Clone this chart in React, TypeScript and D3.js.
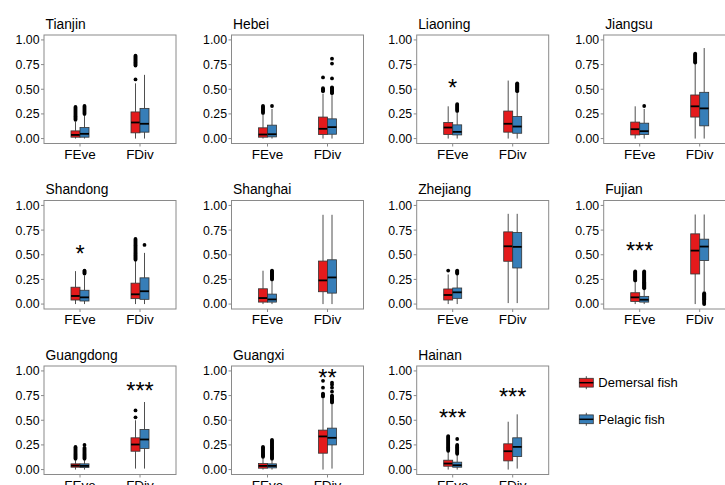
import React from "react";
import * as d3 from "d3";

const provinces = ["Tianjin", "Hebei", "Liaoning", "Jiangsu", "Shandong", "Shanghai", "Zhejiang", "Fujian", "Guangdong", "Guangxi", "Hainan"];
const metrics = ["FEve", "FDiv"];
const fishTypes = ["Demersal fish", "Pelagic fish"];
const fishColors = ["#E41A1C", "#377EB8"];
const yTicks = [0, 0.25, 0.5, 0.75, 1];

// per province: [FEve-Demersal, FEve-Pelagic, FDiv-Demersal, FDiv-Pelagic], each [low, q1, median, q3, high]
const boxStats: number[][][] = [
  [[0, .014, .037, .078, .17], [0, .014, .048, .112, .24], [0, .058, .163, .27, .56], [0, .065, .15, .306, .646]],
  [[0, .014, .041, .109, .25], [0, .017, .044, .136, .30], [0, .041, .099, .218, .456], [0, .044, .116, .2, .45]],
  [[0, .041, .112, .163, .327], [0, .037, .068, .139, .27], [0, .065, .15, .279, .588], [0, .054, .122, .224, .47]],
  [[0, .037, .095, .167, .327], [0, .041, .075, .156, .30], [0, .218, .327, .442, .76], [0, .129, .306, .469, .918]],
  [[0, .041, .082, .171, .334], [0, .031, .068, .14, .29], [0, .055, .099, .212, .44], [0, .048, .13, .266, .519]],
  [[0, .02, .061, .155, .338], [0, .02, .047, .101, .24], [0, .125, .24, .436, .905], [0, .111, .27, .449, .905]],
  [[0, .041, .092, .153, .30], [0, .058, .119, .163, .30], [.01, .434, .586, .732, .915], [.01, .366, .58, .725, .915]],
  [[0, .027, .068, .115, .23], [0, .02, .044, .078, .15], [0, .305, .542, .712, .908], [.13, .441, .583, .658, .908]],
  [[0, .024, .04, .058, .10], [0, .02, .037, .058, .10], [.01, .186, .254, .322, .50], [.01, .214, .305, .407, .685]],
  [[0, .014, .037, .061, .12], [0, .017, .037, .058, .10], [0, .166, .336, .40, .72], [.01, .25, .322, .42, .66]],
  [[0, .034, .061, .095, .18], [0, .024, .044, .075, .15], [0, .088, .186, .261, .485], [.01, .132, .23, .322, .56]],
];

const outliers: number[][][] = [
  [[.19, .2, .21, .22, .23, .24, .25, .26, .27, .28, .29, .3, .31, .32], [.25, .26, .27, .28, .29, .3, .31, .32, .33], [.6, .74, .75, .76, .77, .78, .79, .8, .81, .82, .83, .84], []],
  [[.26, .27, .28, .29, .3, .31, .32, .33], [.33], [.48, .49, .5, .51, .62], [.46, .47, .48, .49, .5, .51, .52, .61, .76, .81]],
  [[], [.28, .29, .3, .31, .32, .33, .34, .35], [], [.48, .49, .5, .51, .52, .53, .54, .55, .56]],
  [[], [.33], [.77, .78, .79, .8, .81, .82, .83, .84, .85, .86], []],
  [[], [.31, .32, .33, .34], [.45, .46, .47, .48, .49, .5, .51, .52, .53, .54, .55, .56, .57, .58, .59, .6, .61, .62, .63, .64, .65, .66], [.6]],
  [[], [.25, .26, .27, .28, .29, .3, .31, .32, .33, .34], [], []],
  [[.34], [.31, .32, .33, .34], [], []],
  [[.24, .25, .26, .27, .28, .29, .3, .31, .32, .33], [.16, .17, .18, .19, .2, .21, .22, .23, .24, .25, .26, .27, .28, .29, .3, .31, .32, .33], [], [0, .01, .02, .03, .04, .05, .06, .07, .08, .09, .1, .11]],
  [[.11, .12, .13, .14, .15, .16, .17, .18, .19, .2, .21, .22, .23], [.11, .12, .13, .14, .15, .16, .17, .18, .19, .2, .21, .22, .25], [.53, .6], []],
  [[.13, .14, .15, .16, .17, .18, .19, .2, .21, .22, .23], [.11, .12, .13, .14, .15, .16, .17, .18, .19, .2, .21, .22, .23, .24, .25, .26, .27, .28, .29, .3], [.74, .75, .76, .77, .83, .9], [.68, .69, .7, .71, .72, .73, .74, .75, .79, .83, .86, .88]],
  [[.19, .2, .21, .22, .23, .24, .25, .26, .27, .28, .29, .3, .31, .32, .33, .34], [.16, .17, .18, .19, .2, .21, .22, .23, .24, .25, .31], [], []],
];

const stars = [
  { province: "Liaoning", metric: "FEve", label: "*", y: 0.565 },
  { province: "Shandong", metric: "FEve", label: "*", y: 0.567 },
  { province: "Fujian", metric: "FEve", label: "***", y: 0.597 },
  { province: "Guangdong", metric: "FDiv", label: "***", y: 0.847 },
  { province: "Guangxi", metric: "FDiv", label: "**", y: 0.983 },
  { province: "Hainan", metric: "FEve", label: "***", y: 0.576 },
  { province: "Hainan", metric: "FDiv", label: "***", y: 0.79 },
];

const colLefts = [44, 231.5, 416.7, 603.7];
const rowTops = [35, 200.5, 366];
const PW = 132;
const PH = 108.5;
const FONT = "'Liberation Sans', Arial, Helvetica, sans-serif";
const FRAME = "#8a8a8a";
const STAR_SIZE = 23.5;

function Panel({ idx }: { idx: number }) {
  const left = colLefts[idx % 4];
  const top = rowTops[Math.floor(idx / 4)];
  const x = d3.scalePoint<string>().domain(metrics).range([left, left + PW]).padding(0.6);
  const y = d3.scaleLinear().domain([-0.05, 1.05]).range([top + PH, top]);
  const step = x.step();
  const bw = step * 0.15;
  const name = provinces[idx];
  const els: React.ReactNode[] = [];
  metrics.forEach((m, mi) => {
    fishTypes.forEach((f, fi) => {
      const k = mi * 2 + fi;
      const [lo, q1, med, q3, hi] = boxStats[idx][k];
      const cx = (x(m) as number) + (fi === 0 ? -bw / 2 : bw / 2);
      els.push(
        <g key={`${m}-${f}`}>
          <line x1={cx} x2={cx} y1={y(q3)} y2={y(hi)} stroke="#222" strokeWidth={0.8} />
          <line x1={cx} x2={cx} y1={y(q1)} y2={y(lo)} stroke="#222" strokeWidth={0.8} />
          <rect x={cx - bw / 2} y={y(q3)} width={bw} height={y(q1) - y(q3)} fill={fishColors[fi]} stroke="#333" strokeWidth={0.8} />
          <line x1={cx - bw / 2} x2={cx + bw / 2} y1={y(med)} y2={y(med)} stroke="#000" strokeWidth={1.8} />
          {outliers[idx][k].map((v, i) => (
            <circle key={i} cx={cx} cy={y(v)} r={1.9} fill="#000" />
          ))}
        </g>
      );
    });
  });
  return (
    <g>
      <text x={left + 1.5} y={top - 6.5} fontSize={13.8} fontFamily={FONT} fill="#000">{name}</text>
      <rect x={left} y={top} width={PW} height={PH} fill="#fff" stroke={FRAME} strokeWidth={1} />
      {yTicks.map((t) => (
        <g key={t}>
          <line x1={left - 3} x2={left} y1={y(t)} y2={y(t)} stroke={FRAME} strokeWidth={1} />
          <text x={left - 4.5} y={y(t)} dy="0.36em" textAnchor="end" fontSize={12.3} fontFamily={FONT} fill="#000">{d3.format(".2f")(t)}</text>
        </g>
      ))}
      {metrics.map((m) => (
        <g key={m}>
          <line x1={x(m)} x2={x(m)} y1={top + PH} y2={top + PH + 3} stroke={FRAME} strokeWidth={1} />
          <text x={x(m)} y={top + PH + 15} textAnchor="middle" fontSize={13.5} fontFamily={FONT} fill="#000">{m}</text>
        </g>
      ))}
      {els}
      {stars.filter((s) => s.province === name).map((s, i) => (
        <text key={i} x={x(s.metric)} y={y(s.y) + STAR_SIZE * 0.573} textAnchor="middle" fontSize={STAR_SIZE} fontFamily={FONT} fill="#000">{s.label}</text>
      ))}
    </g>
  );
}

function Legend() {
  const ys = [382.7, 419.3];
  const kx = 579.3;
  const kw = 14;
  return (
    <g>
      {fishTypes.map((f, i) => (
        <g key={f}>
          <line x1={kx + kw / 2} x2={kx + kw / 2} y1={ys[i] - 6.5} y2={ys[i] + 6.5} stroke="#222" strokeWidth={0.8} />
          <rect x={kx} y={ys[i] - 4.4} width={kw} height={8.8} fill={fishColors[i]} stroke="#333" strokeWidth={0.8} />
          <line x1={kx} x2={kx + kw} y1={ys[i]} y2={ys[i]} stroke="#000" strokeWidth={1.5} />
          <text x={598.3} y={ys[i]} dy="0.36em" fontSize={13} fontFamily={FONT} fill="#000">{f}</text>
        </g>
      ))}
    </g>
  );
}

export default function App() {
  return (
    <svg width={725} height={485} style={{ position: "absolute", left: 0, top: 0, background: "#fff" }}>
      <rect width={725} height={485} fill="#fff" />
      {provinces.map((p, i) => (
        <Panel key={p} idx={i} />
      ))}
      <Legend />
    </svg>
  );
}
